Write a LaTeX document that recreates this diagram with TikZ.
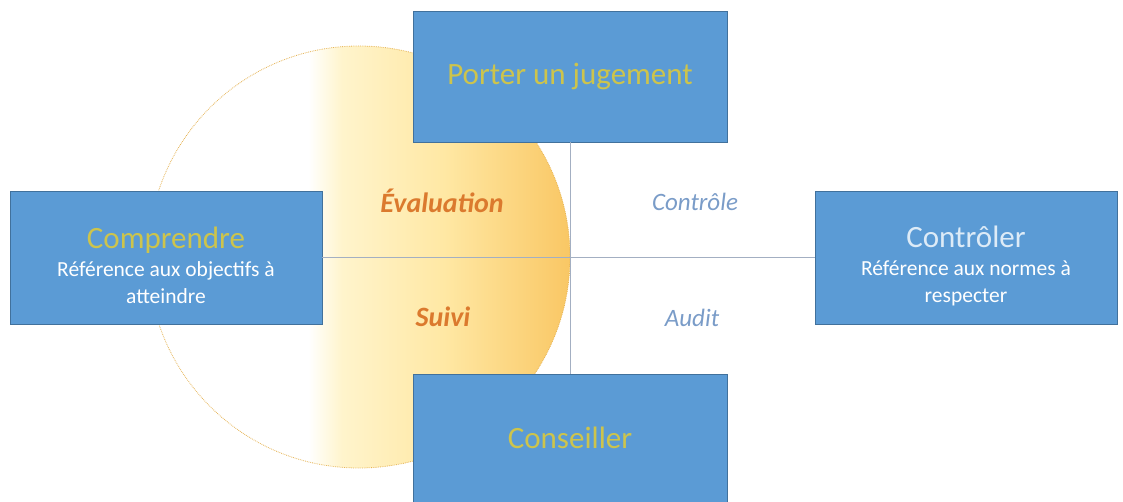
\documentclass[tikz,border=0pt]{standalone}
\usepackage{fontspec}
\setmainfont{Carlito}
\usepackage{tikz}
\usetikzlibrary{positioning}
\definecolor{bleu}{HTML}{5B9BD5}
\definecolor{bleufonce}{HTML}{41719C}
\definecolor{jaune}{HTML}{CDC44C}
\definecolor{bleupale}{HTML}{DDEBF7}
\definecolor{orangetxt}{HTML}{DB7A2E}
\definecolor{bleutxt}{HTML}{7A9CC8}
\definecolor{trait}{HTML}{A3AFC2}
\definecolor{cremeclair}{HTML}{FFF4CC}
\definecolor{jauneclair}{HTML}{FFE8A4}
\definecolor{orangeclair}{HTML}{F9C764}
\definecolor{pointille}{HTML}{E6B455}
\newcommand{\cjaune}[1]{\textcolor{jaune}{#1}}
\newcommand{\grand}{\fontsize{31}{36}\selectfont}
\newcommand{\petit}{\fontsize{21.5}{27}\selectfont}
\pgfdeclarehorizontalshading{soleil}{100bp}{color(0bp)=(white); color(44bp)=(white);
  color(48bp)=(cremeclair); color(60bp)=(jauneclair); color(75bp)=(orangeclair);
  color(100bp)=(orangeclair)}

\begin{document}
\begin{tikzpicture}[x=1pt, y=-1pt,
  boite/.style = {draw=bleufonce, line width=0.8pt, fill=bleu,
    align=center, inner sep=0pt, font=\petit},
  texte/.style = {align=center, inner sep=0pt, font=\petit},
  axe/.style = {trait, line width=1pt},
  etiquette/.style = {font=\fontsize{25}{30}\selectfont\itshape},
  quadrant/.style = {font=\fontsize{28}{32}\selectfont\bfseries\itshape}]
  \useasboundingbox (0,0) rectangle (1123,502);

  % le disque degrade
  \path[shading=soleil] (359,257) circle (211);
  \draw[pointille, densely dotted, line width=0.8pt] (359,257) circle (211);

  % les quatre boites
  \node[boite, minimum width=314pt, minimum height=131pt] (juger) at (570,76.5)
    {\grand\cjaune{Porter un jugement}};
  \node[boite, minimum width=314pt, minimum height=128pt] (conseil) at (570,438)
    {\grand\cjaune{Conseiller}};
  \node[boite, minimum width=312pt, minimum height=133pt] (comprendre) at (166,257.5) {};
  \node[boite, minimum width=302pt, minimum height=133pt] (controler) at (966,257.5) {};
  \node[texte] (comprendre-txt) at ([yshift=-8pt]comprendre.center)
    {{\grand\cjaune{Comprendre}}\\[1pt]
     \color{white}R\'ef\'erence aux objectifs \`a\\ \color{white}atteindre};
  \node[texte] (controler-txt) at ([yshift=-8pt]controler.center)
    {{\grand\color{bleupale}Contr\^oler}\\[1pt]
     \color{white}R\'ef\'erence aux normes \`a\\ \color{white}respecter};

  % les axes
  \draw[axe] (comprendre.east) -- (controler.west);
  \draw[axe] (juger.south) -- (conseil.north);

  % les quadrants
  \node[quadrant, orangetxt] (evaluation) at (442,201) {\'Evaluation};
  \node[quadrant, orangetxt] (suivi) at (443,317) {Suivi};
  \node[etiquette, bleutxt] (controle) at (695,202) {Contr\^ole};
  \node[etiquette, bleutxt] (audit) at (692,318) {Audit};
\end{tikzpicture}
\end{document}
